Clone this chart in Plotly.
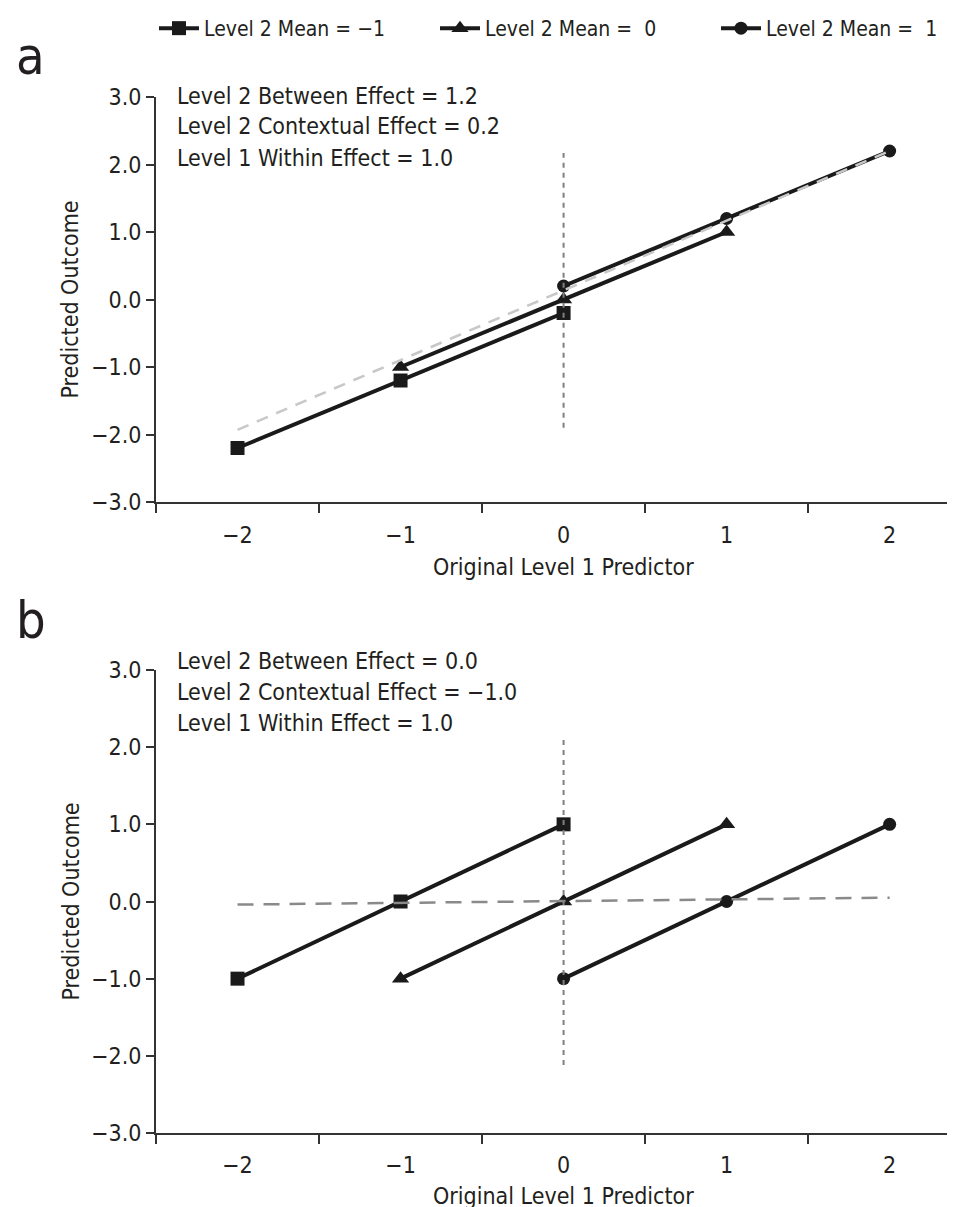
import plotly.graph_objects as go

W, H = 955, 1207

# ---------------- data ----------------
x_tick_vals = [-2, -1, 0, 1, 2]
x_tick_text = ["\u22122", "\u22121", "0", "1", "2"]
x_minor_ticks = [-2.5, -1.5, -0.5, 0.5, 1.5]
y_tick_vals = [-3, -2, -1, 0, 1, 2, 3]

series_names = ["Level 2 Mean = \u22121", "Level 2 Mean =\u00a0\u00a00", "Level 2 Mean =\u00a0\u00a01"]
series_symbols = ["square", "triangle-up", "circle"]
series_sizes = [14, 15, 13]

# panel a
a_x_m1 = [-2, -1, 0]
a_y_m1 = [-2.2, -1.2, -0.2]
a_x_0 = [-1, 0, 1]
a_y_0 = [-1.0, 0.0, 1.0]
a_x_p1 = [0, 1, 2]
a_y_p1 = [0.2, 1.2, 2.2]
a_between_x = [-2, 2]
a_between_y = [-1.93, 2.2]
a_vert_x = [0, 0]
a_vert_y = [-1.9, 2.17]
a_notes = ["Level 2 Between Effect = 1.2",
           "Level 2 Contextual Effect = 0.2",
           "Level 1 Within Effect = 1.0"]

# panel b
b_x_m1 = [-2, -1, 0]
b_y_m1 = [-1.0, 0.0, 1.0]
b_x_0 = [-1, 0, 1]
b_y_0 = [-1.0, 0.0, 1.0]
b_x_p1 = [0, 1, 2]
b_y_p1 = [-1.0, 0.0, 1.0]
b_between_x = [-2, 2]
b_between_y = [-0.04, 0.05]
b_vert_x = [0, 0]
b_vert_y = [-2.12, 2.15]
b_notes = ["Level 2 Between Effect = 0.0",
           "Level 2 Contextual Effect = \u22121.0",
           "Level 1 Within Effect = 1.0"]

x_title = "Original Level 1 Predictor"
y_title = "Predicted Outcome"
panel_labels = ["a", "b"]

# ---------------- style ----------------
FONT = "Liberation Sans Narrow, Arial Narrow, DejaVu Sans Condensed, sans-serif"
TXT = "#231f20"
AX = "#333333"
LINE = "#1a1a1a"


def pfy(px):
    return 1 - px / H


def pfx(px):
    return px / W


# panel pixel geometry
PLOT_L = 148
A_TOP, A_BOT = 89, 494
B_TOP, B_BOT = 662, 1125

fig = go.Figure()

panels = [
    ("x", "y", [(a_x_m1, a_y_m1), (a_x_0, a_y_0), (a_x_p1, a_y_p1)],
     (a_between_x, a_between_y, "#c8c8c8", "12px,9px"), (a_vert_x, a_vert_y)),
    ("x2", "y2", [(b_x_m1, b_y_m1), (b_x_0, b_y_0), (b_x_p1, b_y_p1)],
     (b_between_x, b_between_y, "#8a8a8a", "16px,10px"), (b_vert_x, b_vert_y)),
]

for pi, (xr, yr, ser, betw, vert) in enumerate(panels):
    for si, (xs, ys) in enumerate(ser):
        fig.add_trace(go.Scatter(
            x=xs, y=ys, xaxis=xr, yaxis=yr, mode="lines+markers",
            name=series_names[si], legendgroup=str(si), showlegend=(pi == 0),
            line=dict(color=LINE, width=4),
            marker=dict(symbol=series_symbols[si], size=series_sizes[si], color=LINE),
        ))
    bx, by, bcol, bdash = betw
    fig.add_trace(go.Scatter(x=bx, y=by, xaxis=xr, yaxis=yr, mode="lines",
                             showlegend=False, hoverinfo="skip",
                             line=dict(color=bcol, width=2.5, dash=bdash)))
    vx, vy = vert
    fig.add_trace(go.Scatter(x=vx, y=vy, xaxis=xr, yaxis=yr, mode="lines",
                             showlegend=False, hoverinfo="skip",
                             line=dict(color="#808080", width=2, dash="5px,5px")))


def xaxis_cfg(anchor, label_drop):
    return dict(
        domain=[pfx(PLOT_L), 1.0], range=[-2.5, 2.45], anchor=anchor,
        tickmode="array", tickvals=x_tick_vals, ticktext=x_tick_text,
        ticks="outside", ticklen=label_drop, tickcolor="rgba(0,0,0,0)",
        minor=dict(tickmode="array", tickvals=x_minor_ticks, ticks="outside",
                   ticklen=9, tickwidth=2, tickcolor=AX),
        showline=True, linecolor=AX, linewidth=2, showgrid=False, zeroline=False,
        tickfont=dict(family=FONT, size=23, color=TXT), automargin=False,
    )


def yaxis_cfg(anchor, top, bot):
    return dict(
        domain=[pfy(bot), pfy(top)], range=[-3, 3], anchor=anchor,
        tickmode="array", tickvals=y_tick_vals, tickformat=".1f",
        ticks="outside", ticklen=8, tickwidth=2, tickcolor=AX,
        showline=True, linecolor=AX, linewidth=2, showgrid=False, zeroline=False,
        tickfont=dict(family=FONT, size=23, color=TXT), automargin=False,
    )


annotations = []
for notes, ys in ((a_notes, [88, 118, 150]), (b_notes, [653, 684, 715])):
    for t, yy in zip(notes, ys):
        annotations.append(dict(text=t, xref="paper", yref="paper", x=pfx(167), y=pfy(yy),
                                xanchor="left", yanchor="middle", showarrow=False,
                                font=dict(family=FONT, size=23, color=TXT)))

for top, bot, xt_y in ((A_TOP, A_BOT, 559), (B_TOP, B_BOT, 1188)):
    annotations.append(dict(text=y_title, xref="paper", yref="paper", x=pfx(62),
                            y=pfy((top + bot) / 2), textangle=-90, showarrow=False,
                            xanchor="center", yanchor="middle",
                            font=dict(family=FONT, size=23, color=TXT)))
    annotations.append(dict(text=x_title, xref="paper", yref="paper", x=pfx(555),
                            y=pfy(xt_y), showarrow=False, xanchor="center", yanchor="middle",
                            font=dict(family=FONT, size=23, color=TXT)))

for lab, (lx, ly) in zip(panel_labels, [(22, 48), (23, 612)]):
    annotations.append(dict(text=lab, xref="paper", yref="paper", x=pfx(lx), y=pfy(ly),
                            showarrow=False, xanchor="center", yanchor="middle",
                            font=dict(family=FONT, size=52, color=TXT)))

fig.update_layout(
    width=W, height=H,
    margin=dict(l=0, r=0, t=0, b=0, autoexpand=False),
    paper_bgcolor="white", plot_bgcolor="white",
    xaxis=xaxis_cfg("y", 11), yaxis=yaxis_cfg("x", A_TOP, A_BOT),
    xaxis2=xaxis_cfg("y2", 10), yaxis2=yaxis_cfg("x2", B_TOP, B_BOT),
    annotations=annotations,
    showlegend=True,
    legend=dict(orientation="h", x=pfx(146), y=1.0, xanchor="left", yanchor="top",
                font=dict(family=FONT, size=21, color=TXT), bgcolor="rgba(0,0,0,0)",
                entrywidth=226, entrywidthmode="pixels", itemwidth=40,
                tracegroupgap=0),
)

fig.write_html("out.html")
